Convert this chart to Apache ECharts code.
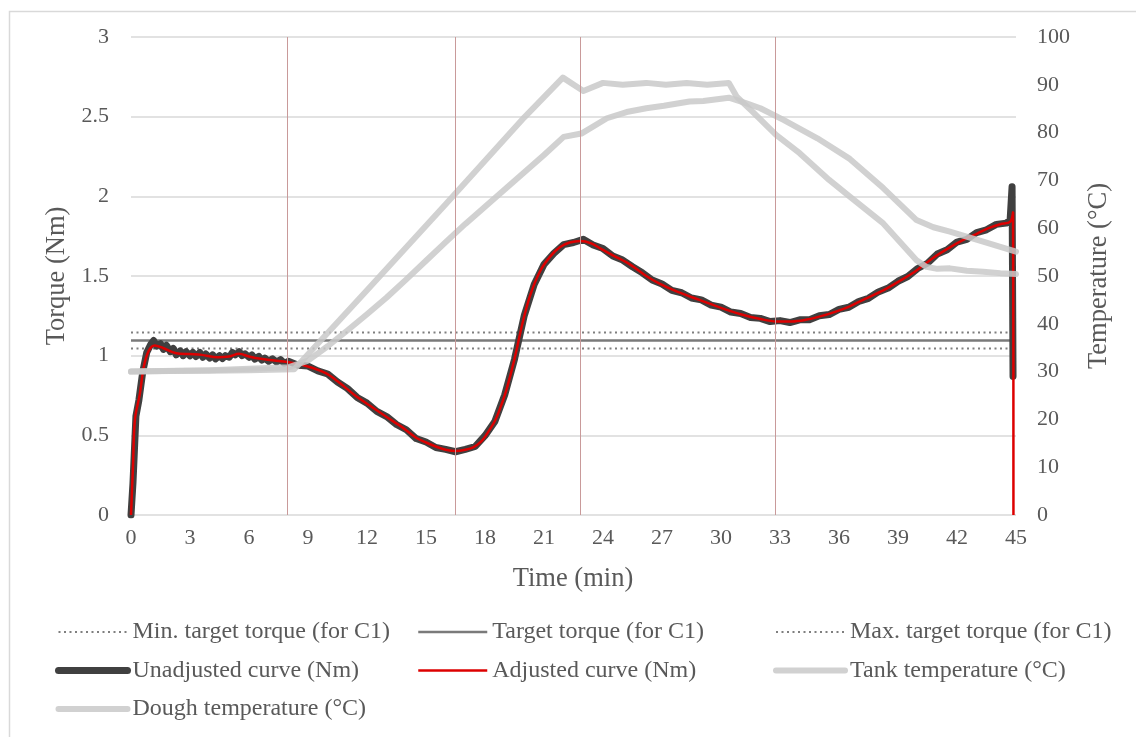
<!DOCTYPE html>
<html>
<head>
<meta charset="utf-8">
<script src="https://cdn.jsdelivr.net/npm/echarts@6/dist/echarts.min.js"></script>
<style>html,body{margin:0;padding:0;background:#fff}#c{width:1136px;height:737px}</style>
</head>
<body>
<div id="c"></div>
<script>
// ---- data (time in min) ----
var timeRange = [0, 45];
var minTarget = 1.045, target = 1.095, maxTarget = 1.145;
var markTimes = [7.95, 16.49, 22.85, 32.78];

var unadjusted = [[0,0],[0.1,0.2],[0.25,0.62],[0.4,0.72],[0.6,0.9],[0.8,1.02],[1.0,1.07],[1.15,1.095],[1.3,1.06],[1.5,1.075],[1.65,1.04],[1.8,1.065],[2.0,1.025],[2.15,1.045],[2.3,1.005],[2.5,1.03],[2.65,1.0],[2.8,1.025],[3.0,1.0],[3.15,1.02],[3.3,0.995],[3.5,1.02],[3.65,0.99],[3.8,1.01],[4.0,0.985],[4.15,1.005],[4.3,0.98],[4.5,1.0],[4.65,0.982],[4.8,1.0],[5.0,0.99],[5.15,1.02],[5.3,1.005],[5.5,1.025],[5.65,1.0],[5.8,1.012],[6.0,0.99],[6.15,1.005],[6.3,0.978],[6.5,0.995],[6.65,0.972],[6.8,0.985],[7.0,0.965],[7.2,0.98],[7.4,0.96],[7.6,0.975],[7.8,0.952],[8.0,0.965],[8.5,0.94],[9.0,0.935],[9.5,0.905],[10.0,0.885],[10.5,0.835],[11.0,0.795],[11.5,0.738],[12.0,0.702],[12.5,0.65],[13.0,0.618],[13.5,0.568],[14.0,0.535],[14.5,0.48],[15.0,0.458],[15.5,0.424],[16.0,0.412],[16.5,0.397],[17.0,0.412],[17.5,0.43],[18.0,0.498],[18.5,0.587],[19.0,0.753],[19.5,0.977],[20.0,1.253],[20.5,1.447],[21.0,1.573],[21.5,1.642],[22.0,1.697],[22.5,1.71],[23.0,1.73],[23.5,1.695],[24.0,1.672],[24.5,1.625],[25.0,1.6],[25.5,1.558],[26.0,1.52],[26.5,1.475],[27.0,1.45],[27.5,1.41],[28.0,1.395],[28.5,1.362],[29.0,1.35],[29.5,1.317],[30.0,1.305],[30.5,1.274],[31.0,1.265],[31.5,1.24],[32.0,1.234],[32.5,1.214],[33.0,1.22],[33.5,1.208],[34.0,1.225],[34.5,1.226],[35.0,1.25],[35.5,1.258],[36.0,1.29],[36.5,1.304],[37.0,1.34],[37.5,1.36],[38.0,1.4],[38.5,1.424],[39.0,1.467],[39.5,1.497],[40.0,1.547],[40.5,1.58],[41.0,1.638],[41.5,1.665],[42.0,1.713],[42.5,1.73],[43.0,1.773],[43.5,1.79],[44.0,1.824],[44.5,1.832],[44.7,1.85],[44.8,2.06],[44.85,0.87]];

var adjusted = [[0,0],[0.1,0.3],[0.2,0.6],[0.45,0.76],[0.65,0.93],[0.9,1.03],[1.2,1.064],[1.6,1.05],[2.3,1.015],[3.0,1.01],[3.6,1.005],[4.4,0.99],[5.0,0.995],[5.5,1.012],[6.0,0.995],[6.6,0.98],[7.3,0.97],[7.95,0.96],[8.9,0.935],[9.9,0.89],[10.6,0.83],[11.3,0.76],[12.1,0.69],[13.0,0.615],[13.8,0.55],[14.5,0.485],[15.0,0.455],[15.6,0.425],[16.0,0.41],[16.5,0.402],[17.0,0.41],[17.4,0.425],[17.8,0.46],[18.1,0.51],[18.5,0.59],[18.8,0.68],[19.1,0.79],[19.5,0.98],[19.9,1.2],[20.3,1.38],[20.8,1.53],[21.3,1.62],[21.8,1.68],[22.3,1.71],[22.85,1.72],[23.4,1.705],[23.9,1.67],[24.5,1.63],[25.4,1.57],[26.2,1.5],[26.9,1.45],[27.8,1.4],[28.9,1.35],[30.0,1.3],[31.0,1.26],[32.0,1.23],[32.8,1.215],[33.6,1.215],[34.3,1.225],[35.0,1.245],[35.8,1.275],[36.55,1.31],[37.3,1.355],[38.25,1.41],[39.1,1.47],[39.94,1.535],[40.8,1.615],[41.64,1.68],[42.3,1.725],[43.0,1.765],[43.6,1.8],[44.2,1.825],[44.7,1.84],[44.85,1.9],[44.87,0]];

var tankTemp = [[0,30.0],[2,30.1],[4,30.2],[6,30.3],[8.3,30.5],[12,47.0],[16,65.0],[20,83.2],[21.96,91.5],[23.0,88.7],[24.0,90.4],[25.0,90.0],[26.2,90.4],[27.2,90.0],[28.25,90.4],[29.3,90.0],[30.4,90.4],[30.8,87.5],[31.6,84.4],[32.8,79.5],[34.0,75.7],[35.5,70.1],[36.55,66.6],[38.25,61.0],[39.94,53.3],[40.45,51.9],[41.0,51.5],[41.64,51.6],[42.5,51.1],[43.33,50.9],[44.2,50.6],[45,50.4]];

var doughTemp = [[0,30.0],[4,30.3],[8,30.9],[9,32.3],[10,35.3],[11,38.6],[12,42.0],[13,45.5],[14,49.3],[15,53.2],[16,57.1],[17,60.9],[18,64.5],[19,68.1],[20,71.7],[21,75.3],[22,79.1],[22.9,79.8],[24.2,83.0],[25.2,84.3],[26.2,85.1],[27.1,85.6],[28.4,86.5],[29.1,86.6],[30.4,87.3],[31.3,86.1],[32.0,85.1],[33.2,82.6],[34.9,78.8],[36.55,74.5],[38.25,68.4],[39.94,61.7],[40.8,60.2],[41.64,59.3],[43.33,57.2],[45,55.1]];

var names = ['Min. target torque (for C1)','Target torque (for C1)','Max. target torque (for C1)','Unadjusted curve (Nm)','Adjusted curve (Nm)','Tank temperature (°C)','Dough temperature (°C)'];

var FONT = 'Liberation Serif';
var TXT = '#595959';
var chart = echarts.init(document.getElementById('c'), null, {renderer:'canvas'});

function hLine(v){ return [[timeRange[0], v],[timeRange[1], v]]; }
var legendBase = {
  orient:'vertical', padding:0, itemWidth:69, itemHeight:14, itemGap:14.5,
  textStyle:{fontFamily:FONT, fontSize:24, color:TXT, lineHeight:24},
  selectedMode:false,
  itemStyle:{opacity:0},
  lineStyle:{width:'inherit', type:'inherit', color:'inherit', cap:'inherit', opacity:'inherit'}
};

function ser(name, axis, data, color, width, extra){
  var s = {name:name, type:'line', yAxisIndex:axis, data:data, symbol:'none', silent:true,
    itemStyle:{color:color}, lineStyle:{color:color, width:width}};
  if (extra) { for (var k in extra) { if (k === 'lineStyle') Object.assign(s.lineStyle, extra[k]); else s[k] = extra[k]; } }
  return s;
}

chart.setOption({
  animation:false,
  backgroundColor:'#fff',
  grid:{left:131, right:120, top:37, bottom:222, outerBoundsMode:'none', containLabel:false},
  legend:[
    Object.assign({}, legendBase, {left:55, top:620, data:[names[0], names[3], names[6]]}),
    Object.assign({}, legendBase, {left:417, top:620, data:[names[1], names[4]]}),
    Object.assign({}, legendBase, {left:773, top:620, data:[names[2], names[5]]})
  ],
  xAxis:{type:'value', min:0, max:45, interval:3,
    axisLine:{show:false}, axisTick:{show:false}, splitLine:{show:false},
    axisLabel:{fontFamily:FONT, fontSize:22, color:TXT, margin:12}},
  yAxis:[
    {type:'value', min:0, max:3, interval:0.5, position:'left',
      axisLine:{show:false}, axisTick:{show:false},
      splitLine:{show:true, lineStyle:{color:'#d9d9d9', width:1.5}},
      axisLabel:{fontFamily:FONT, fontSize:22, color:TXT, margin:22}},
    {type:'value', min:0, max:100, interval:10, position:'right',
      axisLine:{show:false}, axisTick:{show:false}, splitLine:{show:false},
      axisLabel:{fontFamily:FONT, fontSize:22, color:TXT, margin:21}}
  ],
  graphic:[
    {type:'rect', left:7, top:9, shape:{width:1200, height:800}, style:{fill:'none', stroke:'#d9d9d9', lineWidth:1.5}, silent:true, z:-1},
    {type:'text', x:57, y:276, rotation:Math.PI/2, style:{text:'Torque (Nm)', fontFamily:FONT, fontSize:26.5, fill:TXT, align:'center', verticalAlign:'middle'}},
    {type:'text', x:1099, y:276, rotation:Math.PI/2, style:{text:'Temperature (°C)', fontFamily:FONT, fontSize:26.5, fill:TXT, align:'center', verticalAlign:'middle'}},
    {type:'text', x:573, y:579, style:{text:'Time (min)', fontFamily:FONT, fontSize:26.5, fill:TXT, align:'center', verticalAlign:'middle'}}
  ],
  series:[
    ser(names[0], 0, hLine(minTarget), '#7f7f7f', 2, {lineStyle:{type:[2,3.5]},
      markLine:{silent:true, symbol:'none', label:{show:false}, animation:false,
        lineStyle:{color:'#c99a9a', width:1, type:'solid'},
        data: markTimes.map(function(t){return {xAxis:t};})}}),
    ser(names[1], 0, hLine(target), '#7a7a7a', 2.5),
    ser(names[2], 0, hLine(maxTarget), '#7f7f7f', 2, {lineStyle:{type:[2,3.5]}}),
    ser(names[3], 0, unadjusted, '#404040', 7, {lineStyle:{cap:'round', join:'round'}}),
    ser(names[4], 0, adjusted, '#dd0000', 2.5, {smooth:0.35}),
    ser(names[5], 1, tankTemp, '#c9c9c9', 6, {lineStyle:{cap:'round', join:'round', opacity:0.85}}),
    ser(names[6], 1, doughTemp, '#c9c9c9', 6, {lineStyle:{cap:'round', join:'round', opacity:0.85}})
  ]
});
</script>
</body>
</html>
